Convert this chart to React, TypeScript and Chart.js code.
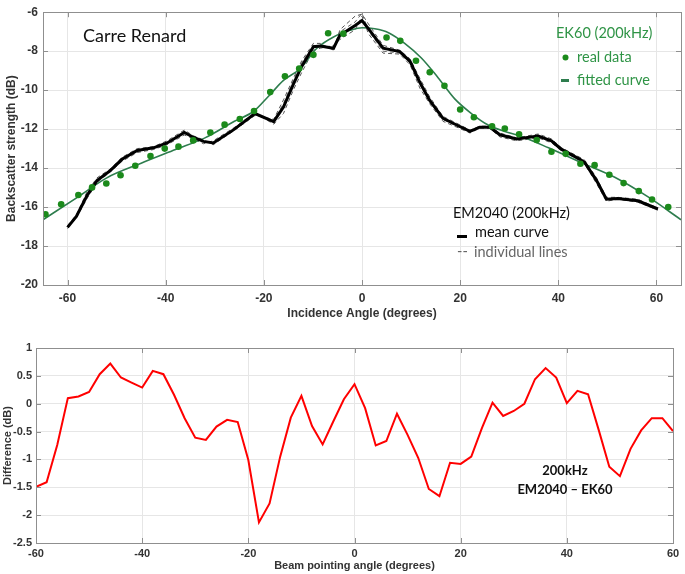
import React, { useEffect, useRef } from 'react';
import { Chart, registerables } from 'chart.js';
Chart.register(...registerables);

// ---------- Top panel data ----------
const ek60Angles = [-64.5, -61.3, -57.8, -55.0, -52.1, -49.2, -46.2, -43.1, -40.2, -37.4, -34.4, -30.9, -28.0, -24.9, -22.0, -18.7, -15.7, -12.8, -9.9, -6.9, -3.8, 5.0, 7.8, 11.0, 13.8, 16.8, 20.0, 22.8, 26.5, 29.1, 32.0, 35.6, 38.6, 41.5, 44.5, 47.4, 50.4, 53.3, 56.4, 59.1, 62.4];
const ek60Values = [-16.37, -15.86, -15.38, -14.99, -14.79, -14.37, -13.88, -13.38, -13.0, -12.9, -12.58, -12.17, -11.77, -11.48, -11.07, -10.1, -9.29, -8.89, -8.19, -7.08, -7.1, -7.3, -7.47, -8.49, -9.08, -9.78, -10.99, -11.39, -11.85, -11.97, -12.26, -12.56, -13.16, -13.27, -13.78, -13.85, -14.34, -14.77, -15.18, -15.61, -16.0];

const fitAngles = [-65, -58, -52, -45, -38, -32, -26, -22, -19, -16, -12.6, -9.2, -5.8, -2.4, 0, 2.6, 5.4, 8.7, 12.1, 15.5, 18.9, 22.3, 25.7, 29.1, 32.5, 38, 44.7, 51.5, 58.3, 65];
const fitValues = [-16.65, -15.5, -14.5, -13.75, -13.05, -12.45, -11.6, -11.07, -10.3, -9.5, -8.9, -7.85, -7.27, -6.93, -6.8, -6.85, -7.05, -7.6, -8.35, -9.36, -10.45, -11.2, -11.79, -12.12, -12.38, -12.96, -13.72, -14.47, -15.48, -16.65];

const em2040Angles = [-60, -58.2, -56, -54, -51.3, -48.9, -45.8, -42.5, -39.7, -36.2, -34.3, -32.3, -30.3, -26.2, -21.8, -18, -16, -14, -12.3, -9.9, -8.5, -5.8, -4.5, -1.4, 0, 1.3, 4.3, 7.7, 9.8, 11.8, 13.8, 16.5, 19.3, 22, 24, 26, 28.1, 31.5, 35.9, 38.6, 40.6, 44.4, 45.4, 47.8, 49.8, 52.1, 56.2, 60.3];
const em2040Mean = [-17.04, -16.48, -15.4, -14.64, -14.13, -13.55, -13.1, -12.96, -12.71, -12.17, -12.43, -12.63, -12.71, -12.04, -11.2, -11.62, -10.87, -9.7, -8.78, -7.77, -7.73, -7.85, -7.18, -6.68, -6.43, -6.84, -7.85, -8.02, -8.52, -9.61, -10.53, -11.45, -11.79, -12.12, -11.9, -11.9, -12.29, -12.51, -12.36, -12.6, -13.03, -13.55, -13.72, -14.64, -15.6, -15.56, -15.68, -16.1];
const em2040Line1 = [-16.95, -16.4, -15.2, -14.5, -14.05, -13.45, -13.0, -12.9, -12.6, -12.05, -12.35, -12.55, -12.8, -12.1, -11.3, -11.5, -10.5, -9.4, -8.5, -7.6, -7.6, -7.95, -6.9, -6.2, -6.1, -6.6, -7.7, -7.95, -8.4, -9.4, -10.35, -11.35, -11.7, -12.05, -11.85, -11.85, -12.2, -12.45, -12.25, -12.5, -12.95, -13.45, -13.6, -14.5, -15.5, -15.5, -15.6, -16.05];
const em2040Line2 = [-17.1, -16.55, -15.55, -14.75, -14.2, -13.65, -13.2, -13.05, -12.8, -12.3, -12.5, -12.75, -12.6, -11.95, -11.15, -11.75, -11.2, -10.0, -9.1, -7.95, -7.85, -7.7, -7.4, -6.9, -6.2, -7.1, -8.1, -8.15, -8.7, -9.9, -10.7, -11.6, -11.9, -12.2, -11.95, -11.95, -12.4, -12.6, -12.45, -12.7, -13.1, -13.6, -13.8, -14.8, -15.7, -15.6, -15.75, -16.15];
const em2040Line3 = [-17.0, -16.45, -15.3, -14.6, -14.1, -13.5, -13.15, -12.95, -12.75, -12.1, -12.45, -12.6, -12.75, -12.0, -11.25, -11.55, -10.7, -9.5, -8.6, -7.7, -7.75, -7.8, -7.0, -6.5, -6.05, -6.95, -8.0, -8.1, -8.6, -9.7, -10.6, -11.5, -11.85, -12.15, -11.9, -11.9, -12.3, -12.55, -12.3, -12.65, -13.05, -13.5, -13.75, -14.7, -15.65, -15.6, -15.7, -16.1];

const topXTicks = [-60, -40, -20, 0, 20, 40, 60];
const topYTicks = [-20, -18, -16, -14, -12, -10, -8, -6];

// ---------- Bottom panel data ----------
const diffAngles = [-60, -58, -56, -54, -52, -50, -48, -46, -44, -42, -40, -38, -36, -34, -32, -30, -28, -26, -24, -22, -20, -18, -16, -14, -12, -10, -8, -6, -4, -2, 0, 2, 4, 6, 8, 10, 12, 14, 16, 18, 20, 22, 24, 26, 28, 30, 32, 34, 36, 38, 40, 42, 44, 46, 48, 50, 52, 54, 56, 58, 60];
const diffValues = [-1.49, -1.41, -0.74, 0.1, 0.13, 0.21, 0.53, 0.72, 0.47, 0.38, 0.29, 0.59, 0.53, 0.16, -0.26, -0.61, -0.65, -0.41, -0.29, -0.33, -1.01, -2.13, -1.79, -0.95, -0.25, 0.14, -0.4, -0.73, -0.32, 0.08, 0.35, -0.08, -0.75, -0.67, -0.18, -0.56, -0.97, -1.53, -1.66, -1.06, -1.08, -0.95, -0.44, 0.02, -0.22, -0.13, 0.0, 0.44, 0.64, 0.47, 0.01, 0.23, 0.17, -0.47, -1.13, -1.3, -0.81, -0.48, -0.26, -0.26, -0.49];

const bottomXTicks = [-60, -40, -20, 0, 20, 40, 60];
const bottomYTicks = [-2.5, -2, -1.5, -1, -0.5, 0, 0.5, 1];

const pts = (xs: number[], ys: number[]) => xs.map((x, i) => ({ x, y: ys[i] }));

const TICK_FONT = 'Liberation Sans, Arial, sans-serif';
const TEXT_FONT = 'Lato, "Open Sans", sans-serif';

function framePlugin(xTicks: number[], yTicks: number[]) {
  return {
    id: 'frameTicks',
    afterDatasetsDraw(chart: any) {
      const { ctx, chartArea: a, scales } = chart;
      const xs = scales.x, ys = scales.y;
      ctx.save();
      ctx.strokeStyle = '#8f8f8f';
      ctx.lineWidth = 1;
      ctx.strokeRect(Math.round(a.left) + 0.5, Math.round(a.top) + 0.5, Math.round(a.right - a.left), Math.round(a.bottom - a.top));
      ctx.beginPath();
      const L = 5;
      xTicks.forEach((v) => {
        const p = Math.round(xs.getPixelForValue(v)) + 0.5;
        ctx.moveTo(p, a.bottom); ctx.lineTo(p, a.bottom - L);
        ctx.moveTo(p, a.top); ctx.lineTo(p, a.top + L);
      });
      yTicks.forEach((v) => {
        const p = Math.round(ys.getPixelForValue(v)) + 0.5;
        ctx.moveTo(a.left, p); ctx.lineTo(a.left + L, p);
        ctx.moveTo(a.right, p); ctx.lineTo(a.right - L, p);
      });
      ctx.stroke();
      ctx.restore();
    },
  };
}

const topAnnotations = {
  id: 'topAnnotations',
  afterDraw(chart: any) {
    const { ctx } = chart;
    ctx.save();
    ctx.textBaseline = 'middle';
    ctx.textAlign = 'left';
    ctx.fillStyle = '#111';
    ctx.font = `18px ${TEXT_FONT}`;
    ctx.fillText('Carre Renard', 83, 36);

    const green = '#2f9446';
    ctx.fillStyle = green;
    ctx.font = `14.5px ${TEXT_FONT}`;
    ctx.fillText('EK60 (200kHz)', 556, 33);
    ctx.fillText('real data', 577, 57);
    ctx.fillText('fitted curve', 577, 80);
    ctx.fillStyle = '#1b8a1b';
    ctx.beginPath();
    ctx.arc(565.5, 57.5, 3, 0, Math.PI * 2);
    ctx.fill();
    ctx.fillStyle = '#2e7d4e';
    ctx.fillRect(561, 79, 8, 3);

    ctx.fillStyle = '#111';
    ctx.fillText('EM2040 (200kHz)', 453, 213);
    ctx.fillText('mean curve', 475, 232);
    ctx.fillStyle = '#000';
    ctx.fillRect(457, 235, 10, 3);
    ctx.fillStyle = '#666';
    ctx.fillText('individual lines', 474, 252);
    ctx.fillText('--', 457, 251);
    ctx.restore();
  },
};

const bottomAnnotations = {
  id: 'bottomAnnotations',
  afterDraw(chart: any) {
    const { ctx } = chart;
    ctx.save();
    ctx.textBaseline = 'middle';
    ctx.textAlign = 'center';
    ctx.fillStyle = '#111';
    ctx.font = `bold 13px ${TEXT_FONT}`;
    ctx.fillText('200kHz', 565, 151);
    ctx.fillText('EM2040 \u2013 EK60', 565, 170);
    ctx.restore();
  },
};

const plainTick = (v: any) => String(Number(v));

export default function App() {
  const topRef = useRef<HTMLCanvasElement>(null);
  const botRef = useRef<HTMLCanvasElement>(null);

  useEffect(() => {
    const gridColor = '#e6e6e6';
    const top = new Chart(topRef.current as HTMLCanvasElement, {
      type: 'line',
      data: {
        datasets: [
          {
            label: 'real data',
            data: pts(ek60Angles, ek60Values),
            showLine: false,
            pointRadius: 3.3,
            pointBackgroundColor: '#1b8a1b',
            pointBorderWidth: 0,
            order: 0,
          },
          {
            label: 'mean curve',
            data: pts(em2040Angles, em2040Mean),
            borderColor: '#000',
            borderWidth: 3,
            pointRadius: 0,
            tension: 0,
            order: 1,
          },
          {
            label: 'fitted curve',
            data: pts(fitAngles, fitValues),
            borderColor: '#2e7d4e',
            borderWidth: 1.6,
            pointRadius: 0,
            cubicInterpolationMode: 'monotone',
            order: 2,
          },
          {
            label: 'line 1',
            data: pts(em2040Angles, em2040Line1),
            borderColor: '#555',
            borderWidth: 1,
            borderDash: [4, 3],
            pointRadius: 0,
            order: 3,
          },
          {
            label: 'line 2',
            data: pts(em2040Angles, em2040Line2),
            borderColor: '#555',
            borderWidth: 1,
            borderDash: [4, 3],
            pointRadius: 0,
            order: 3,
          },
          {
            label: 'line 3',
            data: pts(em2040Angles, em2040Line3),
            borderColor: '#666',
            borderWidth: 1,
            borderDash: [4, 3],
            pointRadius: 0,
            order: 3,
          },
        ],
      },
      options: {
        animation: false,
        responsive: false,
        events: [],
        layout: { padding: { top: 7, right: 3, left: 0, bottom: 0 } },
        plugins: { legend: { display: false }, tooltip: { enabled: false } },
        scales: {
          x: {
            type: 'linear',
            min: -65,
            max: 65,
            afterBuildTicks: (s: any) => { s.ticks = topXTicks.map((v) => ({ value: v })); },
            afterFit: (s: any) => { s.height = 36; },
            grid: { color: gridColor, drawTicks: false },
            border: { display: false },
            ticks: { padding: 6, color: '#333', callback: plainTick, font: { family: TICK_FONT, size: 12, weight: 'bold' } },
            title: { display: true, text: 'Incidence Angle (degrees)', color: '#333', padding: { top: 0, bottom: 0 }, font: { family: TICK_FONT, size: 12, weight: 'bold' } },
          },
          y: {
            type: 'linear',
            min: -20,
            max: -6,
            afterBuildTicks: (s: any) => { s.ticks = topYTicks.map((v) => ({ value: v })); },
            afterFit: (s: any) => { s.width = 43; },
            grid: { color: gridColor, drawTicks: false },
            border: { display: false },
            ticks: { padding: 5, color: '#333', callback: plainTick, font: { family: TICK_FONT, size: 12, weight: 'bold' } },
            title: { display: true, text: 'Backscatter strength (dB)', color: '#333', padding: { top: 4, bottom: 0 }, font: { family: TICK_FONT, size: 12, weight: 'bold' } },
          },
        },
      } as any,
      plugins: [framePlugin(topXTicks, topYTicks), topAnnotations],
    });

    const bottom = new Chart(botRef.current as HTMLCanvasElement, {
      type: 'line',
      data: {
        datasets: [
          {
            label: 'EM2040 - EK60',
            data: pts(diffAngles, diffValues),
            borderColor: '#ff0000',
            borderWidth: 2,
            pointRadius: 0,
            tension: 0,
          },
        ],
      },
      options: {
        animation: false,
        responsive: false,
        events: [],
        layout: { padding: { top: 28, right: 12, left: 0, bottom: 0 } },
        plugins: { legend: { display: false }, tooltip: { enabled: false } },
        scales: {
          x: {
            type: 'linear',
            min: -60,
            max: 60,
            afterBuildTicks: (s: any) => { s.ticks = bottomXTicks.map((v) => ({ value: v })); },
            afterFit: (s: any) => { s.height = 31; },
            grid: { color: gridColor, drawTicks: false },
            border: { display: false },
            ticks: { padding: 4, color: '#333', callback: plainTick, font: { family: TICK_FONT, size: 11, weight: 'bold' } },
            title: { display: true, text: 'Beam pointing angle (degrees)', color: '#333', padding: { top: 0, bottom: 1 }, font: { family: TICK_FONT, size: 11, weight: 'bold' } },
          },
          y: {
            type: 'linear',
            min: -2.5,
            max: 1,
            afterBuildTicks: (s: any) => { s.ticks = bottomYTicks.map((v) => ({ value: v })); },
            afterFit: (s: any) => { s.width = 36; },
            grid: { color: gridColor, drawTicks: false },
            border: { display: false },
            ticks: { padding: 4, color: '#333', callback: plainTick, font: { family: TICK_FONT, size: 11, weight: 'bold' } },
            title: { display: true, text: 'Difference (dB)', color: '#333', padding: { top: 1, bottom: 0 }, font: { family: TICK_FONT, size: 11, weight: 'bold' } },
          },
        },
      } as any,
      plugins: [framePlugin(bottomXTicks, bottomYTicks), bottomAnnotations],
    });

    return () => {
      top.destroy();
      bottom.destroy();
    };
  }, []);

  return (
    <div style={{ position: 'fixed', left: 0, top: 0, width: 685, height: 574, background: '#fff' }}>
      <canvas ref={topRef} width={685} height={321} style={{ position: 'absolute', left: 0, top: 0, width: 685, height: 321 }} />
      <canvas ref={botRef} width={685} height={254} style={{ position: 'absolute', left: 0, top: 320, width: 685, height: 254 }} />
    </div>
  );
}
